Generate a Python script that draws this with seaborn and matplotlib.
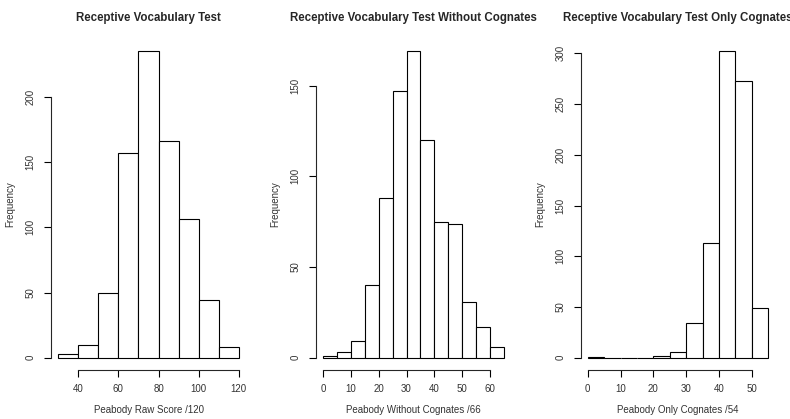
import numpy as np
import pandas as pd
import matplotlib
matplotlib.use("Agg")
import matplotlib.pyplot as plt
import seaborn as sns

# bin edges and counts
raw_edges = list(range(30, 121, 10))
raw_counts = [3, 10, 50, 157, 235, 166, 106, 44, 8]

nocog_edges = list(range(0, 66, 5))
nocog_counts = [1, 3, 9, 40, 88, 147, 169, 120, 75, 74, 31, 17, 6]

cog_edges = list(range(0, 56, 5))
cog_counts = [1, 0, 0, 0, 2, 6, 34, 113, 302, 273, 49]

titles = ["Receptive Vocabulary Test",
          "Receptive Vocabulary Test Without Cognates",
          "Receptive Vocabulary Test Only Cognates"]
xlabels = ["Peabody Raw Score /120",
           "Peabody Without Cognates /66",
           "Peabody Only Cognates /54"]
xticks = [[40, 60, 80, 100, 120],
          [0, 10, 20, 30, 40, 50, 60],
          [0, 10, 20, 30, 40, 50]]
yticks = [[0, 50, 100, 150, 200],
          [0, 50, 100, 150],
          [0, 50, 100, 150, 200, 250, 300]]

sns.set_style("ticks")
plt.rcParams['font.family'] = ['Liberation Sans', 'DejaVu Sans']

fig = plt.figure(figsize=(7.9, 4.19), dpi=100)
W, H = 790, 419
lefts = [51, 316, 580.5]
panels = [(raw_edges, raw_counts), (nocog_edges, nocog_counts), (cog_edges, cog_counts)]

for i, (edges, counts) in enumerate(panels):
    ax = fig.add_axes([lefts[i] / W, 1 - 370 / H, 195 / W, 331 / H])
    centers = [(a + b) / 2 for a, b in zip(edges[:-1], edges[1:])]
    df = pd.DataFrame({"x": centers, "n": counts})
    sns.histplot(data=df, x="x", weights="n", bins=list(edges), ax=ax,
                 color="white", edgecolor="black", linewidth=0.8, alpha=1)

    # R style: 4% padding, detached axes
    span = edges[-1] - edges[0]
    ax.set_xlim(edges[0] - 0.04 * span, edges[-1] + 0.04 * span)
    top = max(counts)
    ax.set_ylim(-0.04 * top, 1.04 * top)
    ax.set_xticks(xticks[i])
    ax.set_yticks(yticks[i])
    for s in ["top", "right"]:
        ax.spines[s].set_visible(False)
    ax.spines["left"].set_bounds(yticks[i][0], yticks[i][-1])
    ax.spines["bottom"].set_bounds(xticks[i][0], xticks[i][-1])
    ax.spines["left"].set_linewidth(0.8)
    ax.spines["bottom"].set_linewidth(0.8)
    ax.tick_params(direction="out", length=5, width=0.8, labelsize=7,
                   colors="black", labelcolor="#333333")
    ax.tick_params(axis="x", pad=5)
    ax.tick_params(axis="y", pad=6)
    for lbl in ax.get_yticklabels():
        lbl.set_rotation(90)
        lbl.set_va("center")

    ax.set_xlabel(xlabels[i], fontsize=7, color="#333333")
    ax.set_ylabel("Frequency", fontsize=7, color="#333333")
    ax.xaxis.set_label_coords(0.5, -0.105)
    ax.yaxis.set_label_coords(-0.182, 0.5)
    ax.text(0.5, 1.062, titles[i], transform=ax.transAxes, ha="center",
            va="center", fontsize=8.3, fontweight="bold")

plt.savefig("out.png", dpi=100)
